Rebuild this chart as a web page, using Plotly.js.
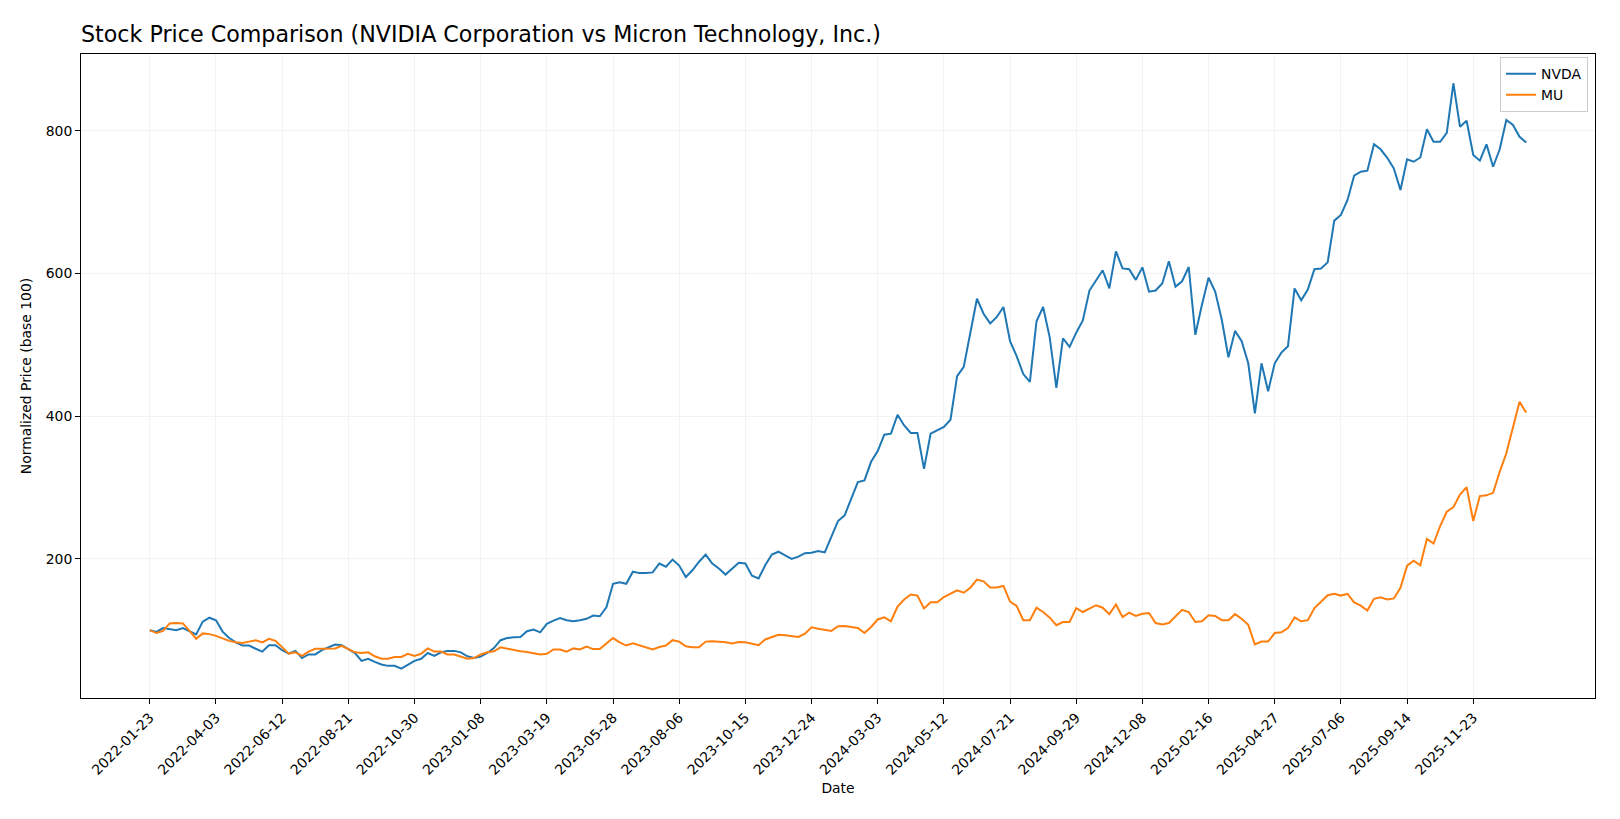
<!DOCTYPE html>
<html>
<head>
<meta charset="utf-8">
<script src="https://cdn.plot.ly/plotly-3.0.1.min.js"></script>
<style>
  html, body { margin: 0; padding: 0; background: #fff; }
  #chart { width: 1620px; height: 819px; }
</style>
</head>
<body>
<div id="chart"></div>
<script>
// Weekly series, first date 2022-01-23, normalized to base 100
const startDate = "2022-01-23";

const nvda = [
  100, 97.5, 103, 101, 100, 103, 98, 94, 112, 117.5,
  114, 98, 89, 83, 78.5, 78.5, 74, 70, 79, 79,
  72, 67, 71, 61, 66, 66, 72, 76.5, 80, 79,
  73, 68, 57, 60, 55.5, 52, 50, 50, 46, 51,
  57, 60, 68, 64, 69, 71, 71, 69, 63.5, 61,
  63, 68, 75, 86, 89, 90, 90.5, 98.5, 101, 97,
  109, 113.5, 117, 114, 112.5, 114, 116, 120.5, 119.5, 132,
  165, 167, 165, 182, 180, 180, 181, 193.5, 189, 199,
  190.5, 174.5, 184, 196, 206, 193.5, 186.5, 178, 186, 194.5,
  193.5, 176.5, 172.5, 191, 206, 210, 205, 200, 203, 208,
  208.5, 211, 209, 232, 253, 261, 283, 307.5, 310, 336,
  351, 374, 375.5, 402, 387, 376.5, 376.5, 326, 375.5, 380,
  385, 395, 456, 469, 517, 564.5, 543.5, 530, 539, 553,
  505, 484, 459, 448, 533, 553, 510, 439.5, 509, 497,
  517, 534, 576, 591, 604.5, 579, 631, 607, 606, 591,
  608.5, 574.5, 576, 586, 617, 581.5, 589, 609, 514, 556,
  594, 574.5, 535, 482.5, 519.5, 505, 474, 404, 474, 435,
  474, 489, 498, 579, 562.5, 577.5, 606, 607, 615.5, 674,
  682, 703, 737, 742.5, 744, 781, 774, 762, 747, 717,
  760, 756.5, 762.5, 802, 784.5, 784.5, 797, 866.5, 805.5, 814,
  766, 758, 781, 749.5, 774, 815, 808, 791.5, 783.5
];

const mu = [
  100, 96, 99, 109.5, 110, 109.5, 99, 88, 95.5, 94.5,
  92, 88, 85, 83, 82, 84, 86, 83, 88, 85,
  76, 67, 69, 64, 70, 74, 74, 74, 74.5, 78,
  73, 69, 68, 69, 63.5, 60, 60, 62.5, 62.5, 67,
  64, 67, 74.5, 70, 70, 66, 66, 62.5, 60, 61,
  66, 69, 70.5, 76, 74, 72, 70.5, 69.5, 68, 66,
  67, 73, 73, 70, 74.5, 73, 77, 73.5, 73.5, 81.5,
  89, 83, 78.5, 81.5, 78.5, 75.5, 73, 76.5, 78.5, 86,
  84, 77.5, 76, 76, 84, 84.5, 84, 83, 81.5, 83.5,
  83, 81.5, 79, 87, 90.5, 93.5, 93, 92, 90.5, 95,
  104, 102, 100.5, 99, 105.5, 106, 104.5, 103, 96, 104.5,
  115, 118, 112.5, 133, 143, 150, 148.5, 130.5, 139, 139,
  146.5, 151.5, 156, 152.5, 159.5, 171, 168.5, 160, 160, 162,
  140, 134, 114, 114, 131.5, 125.5, 117.5, 107, 111.5, 111.5,
  131, 125.5, 130, 135, 131.5, 122.5, 136, 118.5, 124.5, 120,
  123, 124, 110, 108, 110, 120, 128.5, 125.5, 111.5, 112.5,
  121, 120, 114, 114, 122.5, 116, 107.5, 80, 84, 84,
  96, 97, 103, 118, 112.5, 114, 131, 140, 149, 151,
  148.5, 151, 139, 134.5, 127.5, 144, 146, 143, 144.5, 159.5,
  190.5, 197.5, 191, 228, 221.5, 246, 266, 272.5, 290, 300.5,
  253, 288, 289, 292.5, 322, 348, 383, 420, 405
];

const tickLabels = [
  "2022-01-23", "2022-04-03", "2022-06-12", "2022-08-21", "2022-10-30",
  "2023-01-08", "2023-03-19", "2023-05-28", "2023-08-06", "2023-10-15",
  "2023-12-24", "2024-03-03", "2024-05-12", "2024-07-21", "2024-09-29",
  "2024-12-08", "2025-02-16", "2025-04-27", "2025-07-06", "2025-09-14",
  "2025-11-23"
];

const seriesNames = ["NVDA", "MU"];
const seriesColors = ["#1f77b4", "#ff7f0e"];

// weekly dates
const DAY = 86400000;
const t0 = Date.parse(startDate + "T00:00:00Z");
function iso(ms) { return new Date(ms).toISOString().slice(0, 10); }
const n = nvda.length;
const dates = [];
for (let i = 0; i < n; i++) dates.push(iso(t0 + i * 7 * DAY));

// matplotlib-like 5% margins
const tEnd = t0 + (n - 1) * 7 * DAY;
const xPad = (tEnd - t0) * 0.05;
function isoFull(ms) { return new Date(ms).toISOString().replace("T", " ").slice(0, 19); }
const xRange = [isoFull(t0 - xPad), isoFull(tEnd + xPad)];
const allVals = nvda.concat(mu);
const yMin = Math.min(...allVals), yMax = Math.max(...allVals);
const yPad = (yMax - yMin) * 0.05;
const yRange = [yMin - yPad, yMax + yPad];

const font = "DejaVu Sans, Verdana, sans-serif";

const traces = [nvda, mu].map((vals, k) => ({
  x: dates,
  y: vals,
  type: "scatter",
  mode: "lines",
  name: seriesNames[k],
  line: { color: seriesColors[k], width: 2 }
}));

const layout = {
  width: 1620,
  height: 819,
  paper_bgcolor: "#ffffff",
  plot_bgcolor: "#ffffff",
  font: { family: font, size: 13.9, color: "#000000" },
  margin: { l: 81, r: 25, t: 54, b: 121, pad: 0 },
  title: {
    text: "Stock Price Comparison (NVIDIA Corporation vs Micron Technology, Inc.)",
    font: { family: font, size: 22.2, color: "#000000" },
    x: 81 / 1620, xref: "container", xanchor: "left",
    y: 1 - 34 / 819, yref: "container", yanchor: "middle"
  },
  xaxis: {
    type: "date",
    range: xRange,
    tickmode: "array",
    tickvals: tickLabels,
    ticktext: tickLabels,
    tickangle: -45,
    ticks: "outside",
    ticklen: 5,
    tickwidth: 1,
    tickcolor: "#000000",
    tickfont: { family: font, size: 13.9, color: "#000000" },
    showline: true,
    linecolor: "#000000",
    linewidth: 1,
    mirror: true,
    showgrid: true,
    gridcolor: "#f2f2f2",
    gridwidth: 1,
    zeroline: false,
    title: { text: "Date", font: { family: font, size: 13.9, color: "#000000" }, standoff: 6 }
  },
  yaxis: {
    range: yRange,
    tickmode: "array",
    tickvals: [200, 400, 600, 800],
    ticktext: ["200", "400", "600", "800"],
    ticks: "outside",
    ticklen: 5,
    tickwidth: 1,
    tickcolor: "#000000",
    tickfont: { family: font, size: 13.9, color: "#000000" },
    showline: true,
    linecolor: "#000000",
    linewidth: 1,
    mirror: true,
    showgrid: true,
    gridcolor: "#f2f2f2",
    gridwidth: 1,
    zeroline: false,
    title: { text: "Normalized Price (base 100)", font: { family: font, size: 13.9, color: "#000000" }, standoff: 10 }
  },
  legend: {
    x: 0.9954, y: 0.995, xanchor: "right", yanchor: "top",
    bgcolor: "rgba(255,255,255,0.8)",
    bordercolor: "#cccccc",
    borderwidth: 1,
    font: { family: font, size: 13.9, color: "#000000" },
    tracegroupgap: 0
  },
  showlegend: true
};

Plotly.newPlot("chart", traces, layout, { staticPlot: true, displayModeBar: false });
</script>
</body>
</html>
